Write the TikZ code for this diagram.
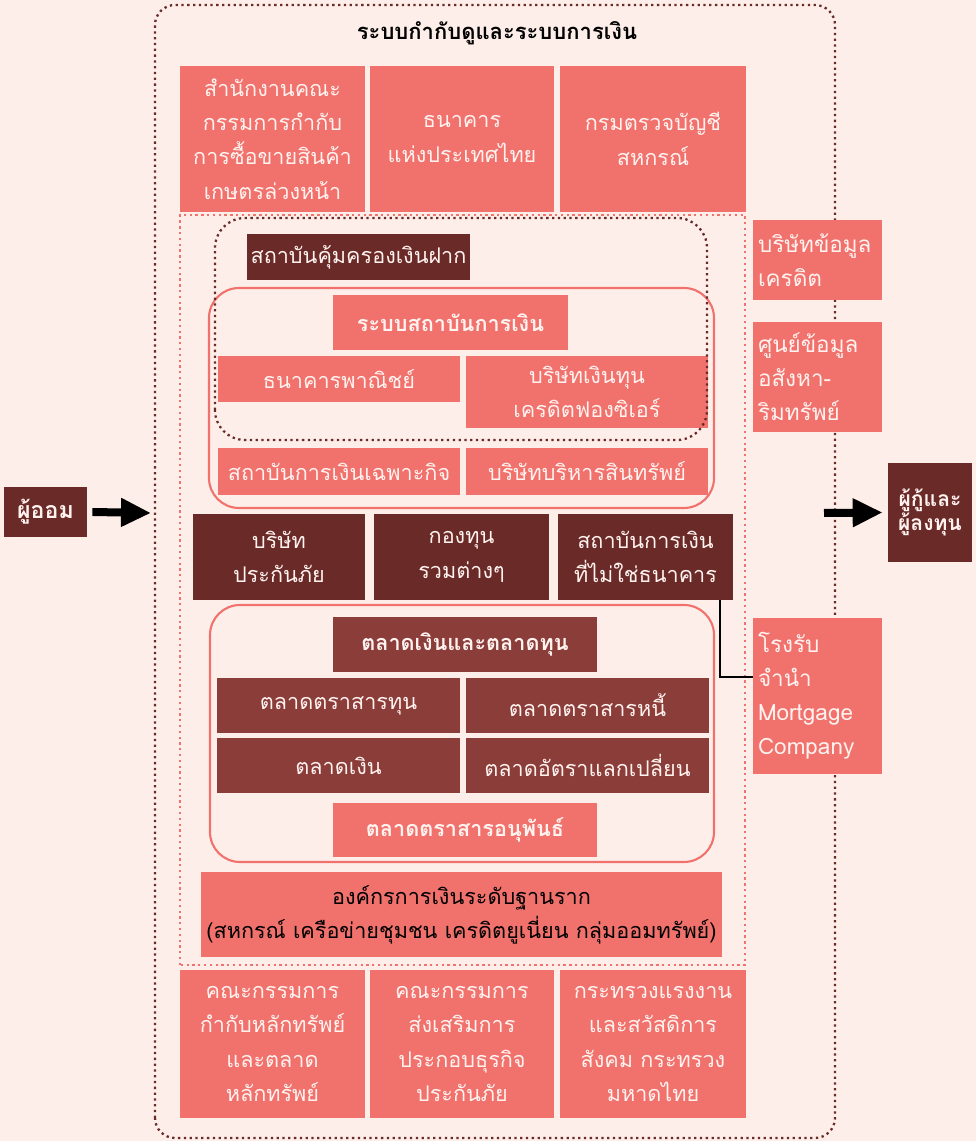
\documentclass[tikz,border=0pt]{standalone}
\usepackage{fontspec}
\setmainfont{Loma}[Script=Thai]
\usetikzlibrary{arrows.meta}
\usetikzlibrary{calc}

\definecolor{bgpink}{HTML}{FDEEE9}
\definecolor{salmon}{HTML}{F1716C}
\definecolor{maroon}{HTML}{6A2A28}
\definecolor{brick}{HTML}{8B3D3A}
\definecolor{paletext}{HTML}{FFF2EF}

\begin{document}
\begin{tikzpicture}[
        box_style/.style={rectangle, fill=salmon, text=paletext, align=center, inner sep=0pt, font=\fontsize{12.3}{19.5}\selectfont},
        dark_box_style/.style={box_style, fill=maroon},
        brick_box_style/.style={box_style, fill=brick},
        head_style/.style={font=\fontsize{12.3}{19.5}\selectfont\bfseries},
        side_box_style/.style={box_style, align=left, text width=2.38cm, minimum width=2.58cm, font=\fontsize{12.8}{19.3}\selectfont},
        group_style/.style={draw=salmon, line width=1.2pt, rounded corners=0.6cm},
        flow_style/.style={draw=black, line width=0.16cm, -{Triangle[length=0.6cm, width=0.54cm]}}]

        \fill [bgpink] (0,0) rectangle (19.52,22.82);
        \useasboundingbox (0,0) rectangle (19.52,22.82);

        % outer frame
        \draw [maroon, line width=1.3pt, dotted, rounded corners=0.4cm] (3.1,0.06) rectangle (16.7,22.72);
        \node [font=\fontsize{12.5}{15}\selectfont\bfseries] (title) at (9.94,22.16) {ระบบกำกับดูและระบบการเงิน};

        % regulators on top
        \node [box_style, minimum width=3.7cm, minimum height=2.92cm] (sec_fut) at (5.45,20.04) {สำนักงานคณะ\\กรรมการกำกับ\\การซื้อขายสินค้า\\เกษตรล่วงหน้า};

        \node [box_style, minimum width=3.68cm, minimum height=2.92cm] (bot) at (9.24,20.04) {ธนาคาร\\แห่งประเทศไทย};

        \node [box_style, minimum width=3.72cm, minimum height=2.92cm] (coop_audit) at (13.06,20.04) {กรมตรวจบัญชี\\สหกรณ์};

        % inner frame
        \draw [salmon, line width=1.3pt, dotted] (3.6,3.52) rectangle (14.9,18.52);

        % financial institutions
        \node [box_style, head_style, minimum width=4.7cm, minimum height=1.1cm] (fi_title) at (9.01,16.37) {ระบบสถาบันการเงิน};

        \node [box_style, minimum width=4.84cm, minimum height=0.92cm] (commercial) at (6.78,15.24) {ธนาคารพาณิชย์};

        \node [box_style, minimum width=4.84cm, minimum height=1.44cm] (fin_co) at (11.74,14.98) {บริษัทเงินทุน\\เครดิตฟองซิเอร์};

        \node [box_style, minimum width=4.84cm, minimum height=0.94cm] (sfi) at (6.78,13.39) {สถาบันการเงินเฉพาะกิจ};

        \node [box_style, minimum width=4.84cm, minimum height=0.94cm] (amc) at (11.74,13.39) {บริษัทบริหารสินทรัพย์};

        \draw [group_style] (4.18,12.66) rectangle (14.28,17.06);

        \node [dark_box_style, minimum width=4.46cm, minimum height=0.92cm] (deposit) at (7.17,17.68) {สถาบันคุ้มครองเงินฝาก};

        \draw [maroon, line width=1.3pt, dotted, rounded corners=0.6cm] (4.3,14.02) rectangle (14.14,18.46);

        % other institutions
        \node [dark_box_style, minimum width=3.44cm, minimum height=1.72cm] (insurer) at (5.58,11.68) {บริษัท\\ประกันภัย};

        \node [dark_box_style, minimum width=3.5cm, minimum height=1.72cm] (mutual) at (9.23,11.68) {กองทุน\\รวมต่างๆ};

        \node [dark_box_style, minimum width=3.5cm, minimum height=1.72cm] (nonbank) at (12.91,11.68) {สถาบันการเงิน\\ที่ไม่ใช่ธนาคาร};

        % markets
        \draw [group_style] (4.2,5.58) rectangle (14.28,10.72);

        \node [brick_box_style, head_style, minimum width=5.28cm, minimum height=1.1cm] (mkt_title) at (9.3,9.93) {ตลาดเงินและตลาดทุน};

        \node [brick_box_style, minimum width=4.86cm, minimum height=1.1cm] (equity) at (6.77,8.71) {ตลาดตราสารทุน};

        \node [brick_box_style, minimum width=4.86cm, minimum height=1.1cm] (debt) at (11.75,8.71) {ตลาดตราสารหนี้};

        \node [brick_box_style, minimum width=4.86cm, minimum height=1.1cm] (money) at (6.77,7.51) {ตลาดเงิน};

        \node [brick_box_style, minimum width=4.86cm, minimum height=1.1cm] (fx) at (11.75,7.51) {ตลาดอัตราแลกเปลี่ยน};

        \node [box_style, head_style, minimum width=5.28cm, minimum height=1.08cm] (deriv) at (9.3,6.22) {ตลาดตราสารอนุพันธ์};

        \node [box_style, text=black, minimum width=10.42cm, minimum height=1.7cm] (grassroots) at (9.23,4.53) {องค์กรการเงินระดับฐานราก\\(สหกรณ์ เครือข่ายชุมชน เครดิตยูเนี่ยน กลุ่มออมทรัพย์)};

        % regulators at the bottom
        \node [box_style, minimum width=3.7cm, minimum height=2.96cm] (sec) at (5.45,1.94) {คณะกรรมการ\\กำกับหลักทรัพย์\\และตลาด\\หลักทรัพย์};

        \node [box_style, minimum width=3.68cm, minimum height=2.96cm] (oic) at (9.24,1.94) {คณะกรรมการ\\ส่งเสริมการ\\ประกอบธุรกิจ\\ประกันภัย};

        \node [box_style, minimum width=3.72cm, minimum height=2.96cm] (ministry) at (13.06,1.94) {กระทรวงแรงงาน\\และสวัสดิการ\\สังคม กระทรวง\\มหาดไทย};

        % right column
        \node [side_box_style, minimum height=1.6cm] (credit) at (16.35,17.62) {บริษัทข้อมูล\\เครดิต};

        \node [side_box_style, minimum height=2.2cm] (realestate) at (16.35,15.28) {ศูนย์ข้อมูล\\อสังหา-\\ริมทรัพย์};

        \node [side_box_style, minimum height=3.12cm] (pawn) at (16.35,8.9) {โรงรับ\\จำนำ\\Mortgage\\Company};

        \coordinate (elbow) at (14.4,9.28);
        \draw [black, line width=1.2pt] (nonbank.south -| elbow) -- (elbow) -- (elbow -| pawn.west);

        % savers and borrowers
        \node [dark_box_style, minimum width=1.66cm, minimum height=1.0cm, font=\fontsize{13.2}{16}\selectfont\bfseries] (savers) at (0.91,12.58) {ผู้ออม};

        \node [dark_box_style, minimum width=1.68cm, minimum height=1.98cm, font=\fontsize{12}{14}\selectfont\bfseries] (borrowers) at (18.6,12.57) {ผู้กู้และ\\ผู้ลงทุน};

        \coordinate (in_tip) at (3.02,12.56);
        \coordinate (out_start) at (16.48,12.56);
        \draw [flow_style] (savers.east) ++(0.1,0) -- (in_tip);
        \draw [flow_style] (out_start) -- ($(borrowers.west)+(-0.1,0)$);

\end{tikzpicture}
\end{document}
